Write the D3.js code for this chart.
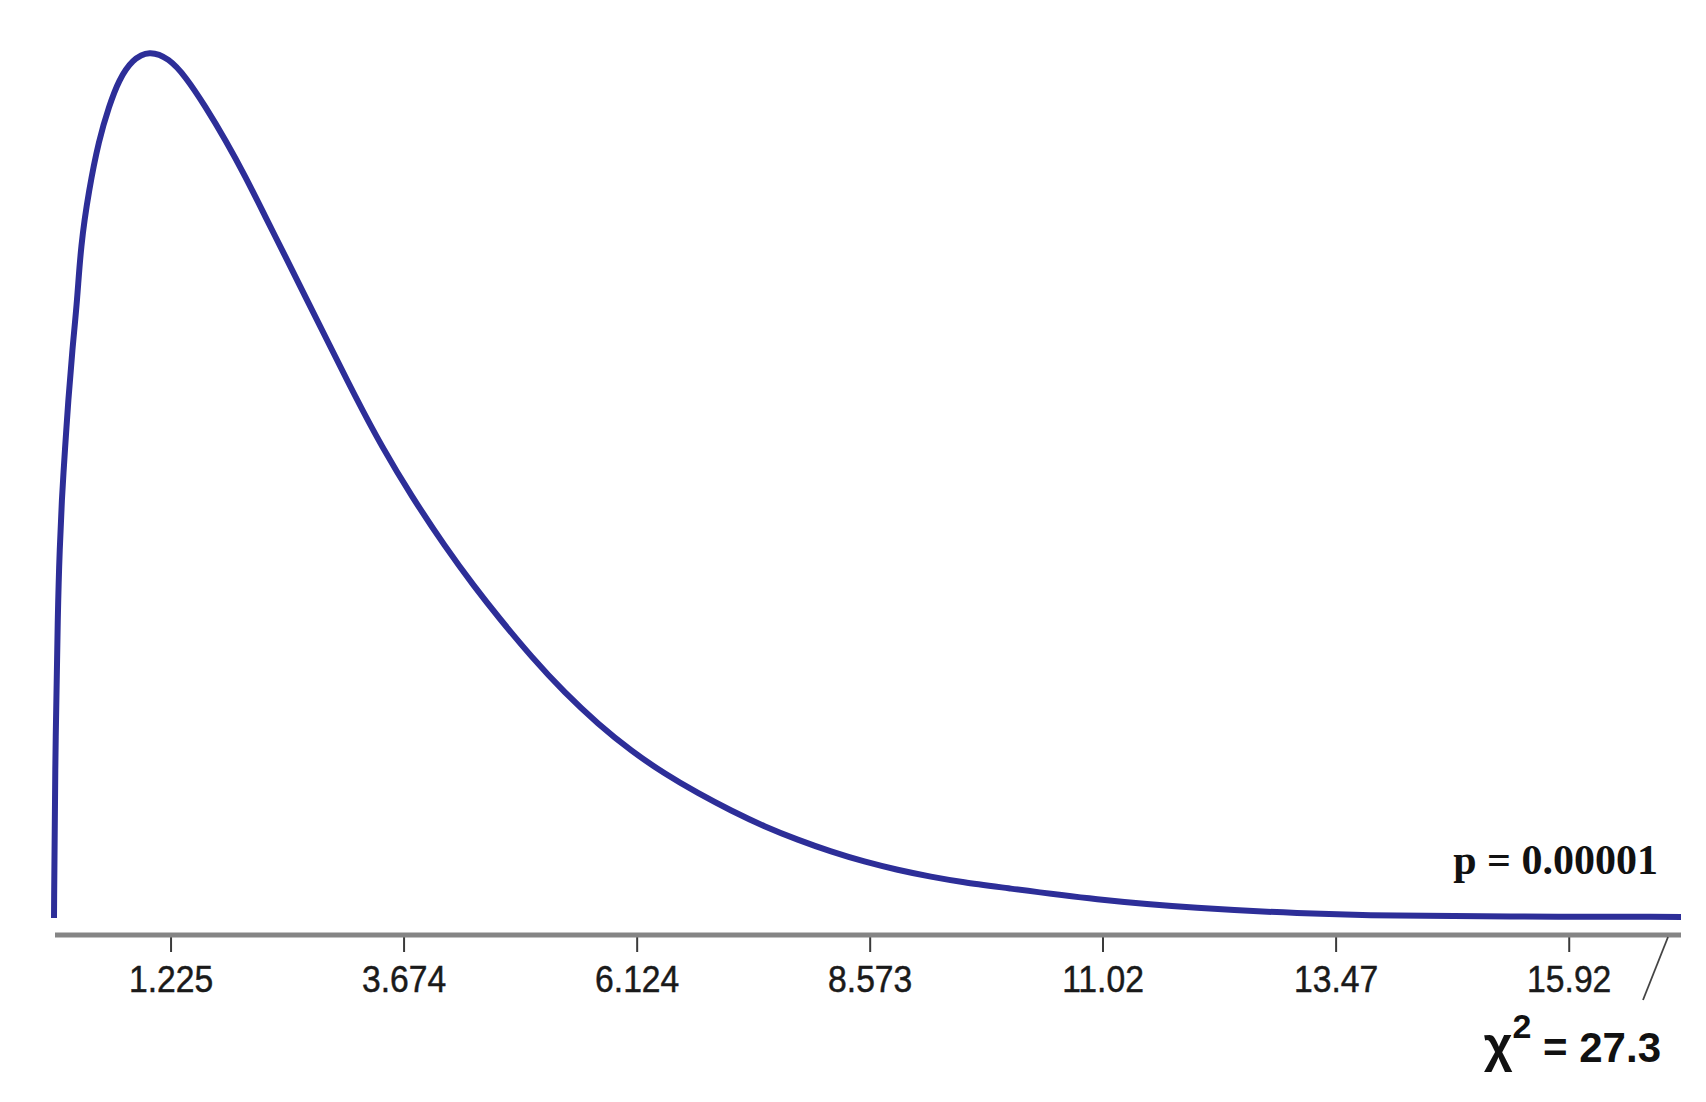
<!DOCTYPE html>
<html>
<head>
<meta charset="utf-8">
<script src="https://cdn.jsdelivr.net/npm/d3@7"></script>
<style>
  html, body { margin: 0; padding: 0; background: #fff; }
  svg { display: block; }
</style>
</head>
<body>
<svg id="chart" width="1706" height="1102"></svg>
<script>
// chi-square curve, values
let xValues = [0, 0.01, 0.042, 0.060, 0.081, 0.115, 0.150, 0.192, 0.245, 0.280, 0.367, 0.472, 0.577, 0.682, 0.822,
  1.000, 1.207, 1.382, 1.592, 1.802, 2.012, 2.221, 2.431, 2.641, 2.886, 3.166, 3.445, 3.760, 4.110,
  4.425, 4.669, 5.019, 5.369, 5.719, 6.068, 6.419, 6.768, 7.118, 7.468, 7.817, 8.167, 8.517, 8.867,
  9.216, 9.567, 9.916, 10.965, 12.015, 13.064, 14.113, 15.163, 17.1]
let densities = [0, 0.040, 0.0888, 0.1027, 0.1166, 0.1306, 0.1445, 0.1585, 0.1725, 0.1874, 0.2032, 0.2171, 0.2264, 0.2339, 0.2395,
  0.2421, 0.2399, 0.2348, 0.2264, 0.2171, 0.2069, 0.1957, 0.1846, 0.1734, 0.1604, 0.1455, 0.1315, 0.1176, 0.1036,
  0.0922, 0.0840, 0.0728, 0.0628, 0.0541, 0.0466, 0.0402, 0.0348, 0.0299, 0.0255, 0.0218, 0.0185, 0.0157, 0.0134,
  0.0115, 0.0099, 0.0087, 0.0050, 0.0027, 0.0013, 0.0006, 0.0004, 0.0003]

// axis ticks
let tickValues = [1.225, 3.674, 6.124, 8.573, 11.02, 13.47, 15.92]
let tickLabels = ['1.225', '3.674', '6.124', '8.573', '11.02', '13.47', '15.92']

let pLabel = 'p = 0.00001'
let statValue = '27.3'

let svg = d3.select('#chart')

let x = d3.scaleLinear().domain([0, 17.1]).range([54, 1681])
let y = d3.scaleLinear().domain([0, 0.25]).range([918, 22])

let points = xValues.map((v, i) => [v, densities[i]])

// x axis
let axis = svg.append('g')
    .attr('transform', 'translate(0,935)')
    .call(d3.axisBottom(x)
        .tickValues(tickValues)
        .tickFormat((d, i) => tickLabels[i])
        .tickSizeOuter(0)
        .tickSize(17))

axis.select('.domain').remove()

axis.append('line')
    .attr('x1', x(0) + 1)
    .attr('x2', x(17.1))
    .attr('stroke', '#858585')
    .attr('stroke-width', 5)

axis.selectAll('.tick line')
    .attr('stroke', '#3a3a3a')
    .attr('stroke-width', 2)
    .attr('y1', 2)

axis.selectAll('.tick text')
    .attr('y', 30)
    .attr('dy', '0.72em')
    .attr('fill', '#1a1a1a')
    .attr('stroke', '#1a1a1a')
    .attr('stroke-width', 0.5)
    .attr('font-family', 'Liberation Sans, Arial, sans-serif')
    .attr('font-size', 37)
    .attr('transform', 'scale(0.91,1)')

// break mark at the end of the axis
svg.append('line')
    .attr('x1', x(17.1) - 13).attr('y1', 937)
    .attr('x2', x(17.1) - 38).attr('y2', 1000)
    .attr('stroke', '#444')
    .attr('stroke-width', 1.8)

// density curve
let line = d3.line()
    .x(d => x(d[0]))
    .y(d => y(d[1]))
    .curve(d3.curveBasis)

svg.append('path')
    .datum(points)
    .attr('d', line)
    .attr('fill', 'none')
    .attr('stroke', '#2d2e98')
    .attr('stroke-width', 6)
    .attr('stroke-linejoin', 'round')

// p value
svg.append('text')
    .attr('x', 1658)
    .attr('y', 874)
    .attr('text-anchor', 'end')
    .attr('font-family', 'Liberation Serif, Times New Roman, serif')
    .attr('font-weight', 'bold')
    .attr('font-size', 42)
    .attr('fill', '#111')
    .text(pLabel)

// chi-square statistic
let stat = svg.append('text')
    .attr('x', 1661)
    .attr('y', 1062)
    .attr('text-anchor', 'end')
    .attr('font-family', 'Liberation Sans, Arial, sans-serif')
    .attr('font-weight', 'bold')
    .attr('font-size', 42)
    .attr('fill', '#111')

stat.append('tspan').attr('font-size', 50).text('χ')
stat.append('tspan').attr('font-size', 34).attr('dy', -24).text('2')
stat.append('tspan').attr('dy', 24).text(' = ' + statValue)
</script>
</body>
</html>
